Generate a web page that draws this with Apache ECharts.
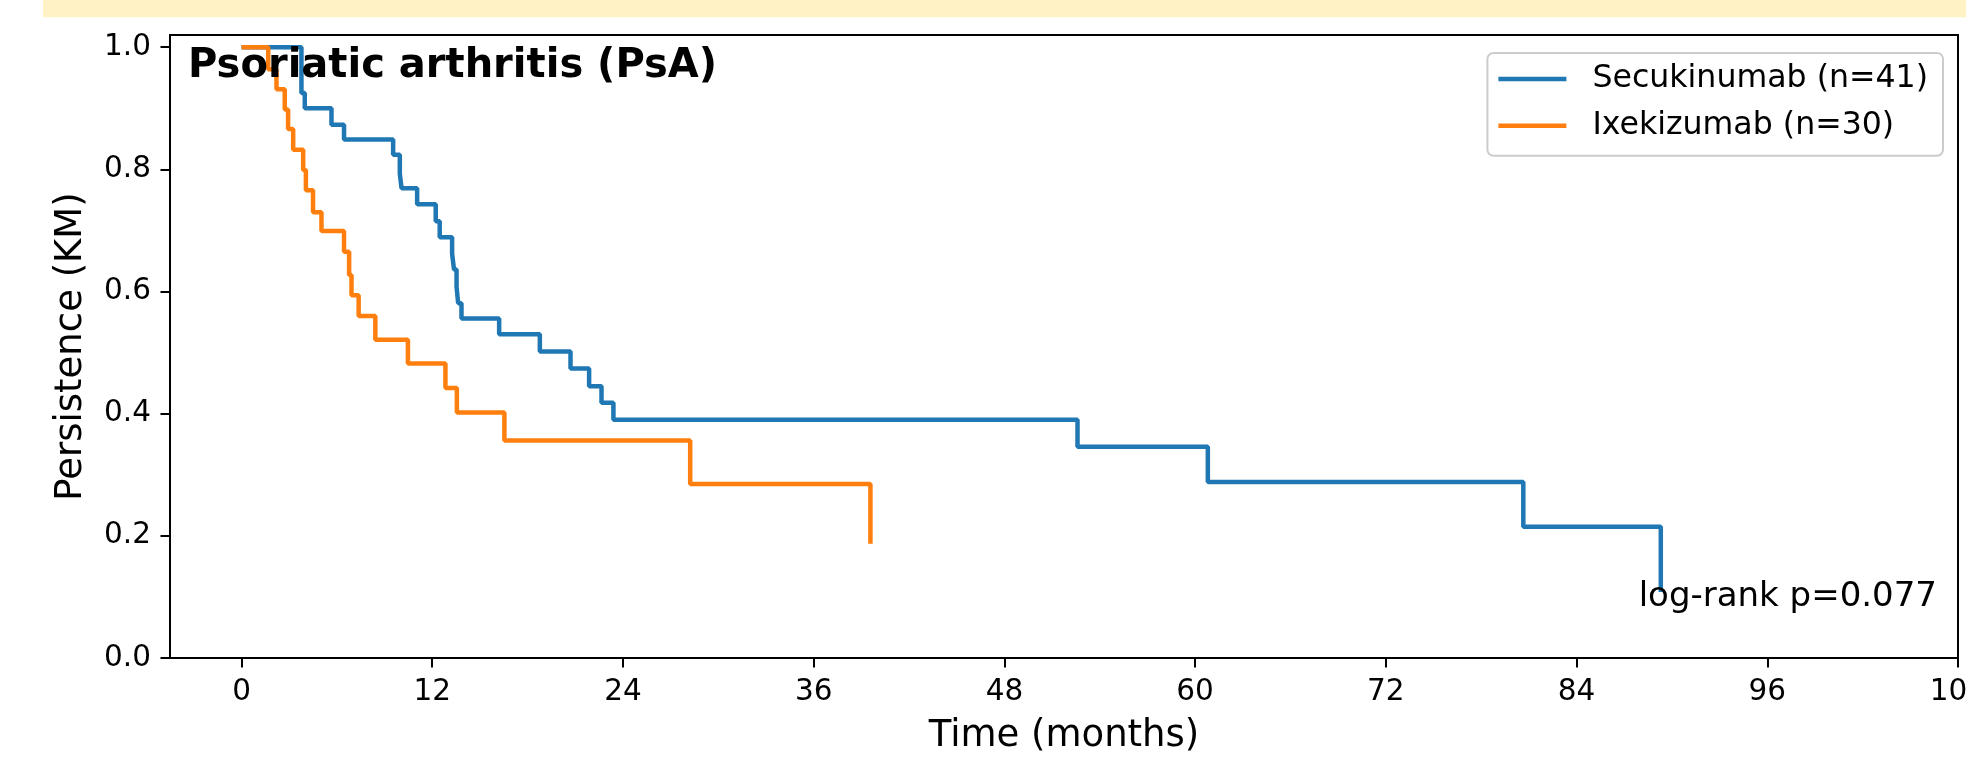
<!DOCTYPE html>
<html>
<head>
<meta charset="utf-8">
<script src="https://cdn.jsdelivr.net/npm/echarts@6/dist/echarts.min.js"></script>
<style>
html,body{margin:0;padding:0;background:#fff;}
#chart{width:1966px;height:758px;}
</style>
</head>
<body>
<div id="chart"></div>
<script>
// ---- data ----
const seriesNames = ['Secukinumab (n=41)', 'Ixekizumab (n=30)'];
const secukinumabTime = [0, 3.77, 3.98, 5.66, 6.45, 9.54, 9.96, 10.07, 11.05, 12.22, 12.47, 13.25, 13.37, 13.53, 13.63, 13.84, 16.21, 18.77, 20.7, 21.87, 22.65, 23.4, 52.6, 60.8, 80.65, 89.3];
const secukinumabKM   = [1.0, 0.925, 0.900, 0.873, 0.849, 0.824, 0.793, 0.769, 0.743, 0.715, 0.689, 0.662, 0.636, 0.608, 0.581, 0.556, 0.530, 0.502, 0.474, 0.445, 0.418, 0.390, 0.346, 0.288, 0.215, 0.108];
const ixekizumabTime = [0, 1.68, 2.2, 2.72, 2.93, 3.25, 3.88, 4.05, 4.5, 5.03, 6.45, 6.77, 6.92, 7.37, 8.42, 10.47, 12.83, 13.55, 16.54, 28.23, 39.57];
const ixekizumabKM   = [1.0, 0.964, 0.931, 0.898, 0.866, 0.832, 0.799, 0.766, 0.730, 0.699, 0.665, 0.627, 0.594, 0.560, 0.521, 0.482, 0.442, 0.402, 0.356, 0.285, 0.187];
const xTicks = [0, 12, 24, 36, 48, 60, 72, 84, 96, 108];
const yTicks = [0, 0.2, 0.4, 0.6, 0.8, 1.0];
const titleText = 'Psoriatic arthritis (PsA)';
const pValueText = 'log-rank p=0.077';
const xAxisTitle = 'Time (months)';
const yAxisTitle = 'Persistence (KM)';

const FONT = 'DejaVu Sans';
const toPairs = (ts, vs) => ts.map((t, i) => [t, vs[i]]);

const chart = echarts.init(document.getElementById('chart'), null, {renderer: 'canvas'});
chart.setOption({
  animation: false,
  backgroundColor: '#ffffff',
  title: {
    text: titleText,
    left: 188, top: 47, padding: 0,
    textStyle: {fontFamily: FONT, fontSize: 40, fontWeight: 'bold', color: '#000'}
  },
  grid: {
    left: 170, right: 8, top: 35, bottom: 100,
    show: true, borderColor: '#000', borderWidth: 2, backgroundColor: 'transparent',
    containLabel: false,
    outerBoundsMode: 'none'
  },
  legend: {
    orient: 'vertical',
    right: 23, top: 53,
    padding: [9, 15, 13, 11],
    itemGap: 12.7,
    itemWidth: 68, itemHeight: 4.5,
    icon: 'rect',
    borderColor: '#cccccc', borderWidth: 2, borderRadius: 6,
    backgroundColor: 'rgba(255,255,255,0.8)',
    textStyle: {fontFamily: FONT, fontSize: 31.6, lineHeight: 34, color: '#000', padding: [0, 0, 0, 21]},
    data: seriesNames
  },
  xAxis: {
    type: 'value',
    min: -4.5, max: 108,
    name: xAxisTitle,
    nameLocation: 'middle', nameGap: 60,
    nameTextStyle: {fontFamily: FONT, fontSize: 37, color: '#000'},
    axisLine: {show: true, onZero: false, lineStyle: {color: '#000', width: 2}},
    axisTick: {show: true, length: 9.5, lineStyle: {color: '#000', width: 2}, customValues: xTicks},
    axisLabel: {fontFamily: FONT, fontSize: 29.5, color: '#000', margin: 19, customValues: xTicks,
      formatter: v => String(Math.round(v))},
    splitLine: {show: false}
  },
  yAxis: {
    type: 'value',
    min: 0, max: 1.02,
    name: yAxisTitle,
    nameLocation: 'middle', nameGap: 80, nameRotate: 90,
    nameTextStyle: {fontFamily: FONT, fontSize: 37, color: '#000'},
    axisLine: {show: true, onZero: false, lineStyle: {color: '#000', width: 2}},
    axisTick: {show: true, length: 9.5, lineStyle: {color: '#000', width: 2}, customValues: yTicks},
    axisLabel: {fontFamily: FONT, fontSize: 29.5, color: '#000', margin: 19, customValues: yTicks,
      formatter: v => v.toFixed(1)},
    splitLine: {show: false}
  },
  graphic: [
    {type: 'rect', left: 43, top: 0, z: -10, shape: {width: 1923, height: 17.3}, style: {fill: '#fff2c4'}},
    {type: 'text', x: 1937, y: 597, z: 10,
      style: {text: pValueText, fill: '#000', fontFamily: FONT, fontSize: 34, align: 'right', verticalAlign: 'middle'}}
  ],
  series: [
    {
      name: seriesNames[0], type: 'line', step: 'end', showSymbol: false, symbol: 'none',
      color: '#1f77b4', lineStyle: {width: 4.5, color: '#1f77b4'},
      data: toPairs(secukinumabTime, secukinumabKM)
    },
    {
      name: seriesNames[1], type: 'line', step: 'end', showSymbol: false, symbol: 'none',
      color: '#ff7f0e', lineStyle: {width: 4.5, color: '#ff7f0e'},
      data: toPairs(ixekizumabTime, ixekizumabKM)
    }
  ]
});
</script>
</body>
</html>
